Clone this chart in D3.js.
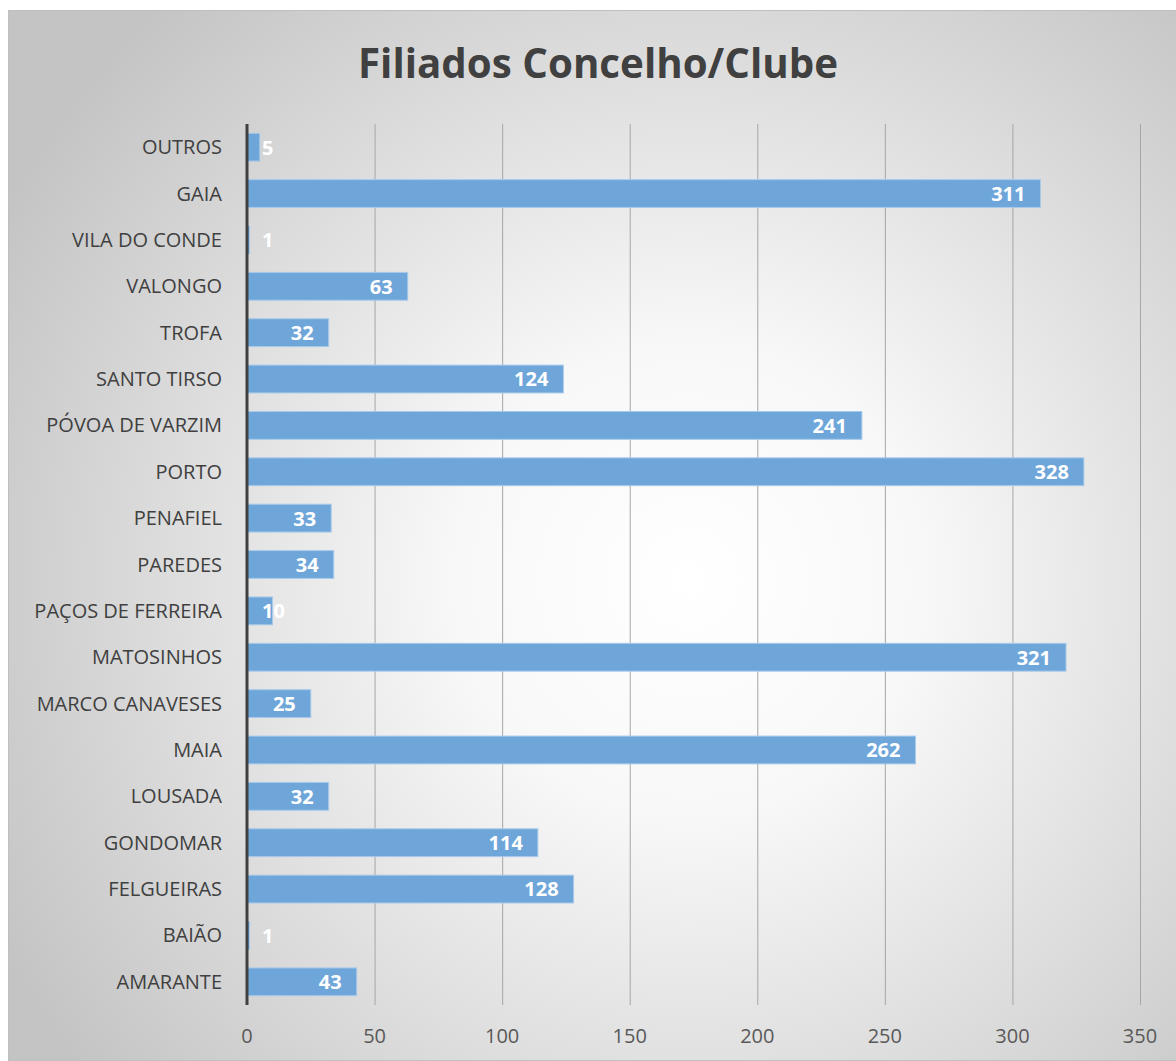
<!DOCTYPE html>
<html>
<head>
<meta charset="utf-8">
<script src="https://cdn.jsdelivr.net/npm/d3@7"></script>
<style>
  body { margin: 0; background: #fff; }
  svg { display: block; }
</style>
</head>
<body>
<div id="chart"></div>
<script>
// data, top to bottom as drawn
const categories = ["OUTROS", "GAIA", "VILA DO CONDE", "VALONGO", "TROFA", "SANTO TIRSO",
  "PÓVOA DE VARZIM", "PORTO", "PENAFIEL", "PAREDES", "PAÇOS DE FERREIRA", "MATOSINHOS",
  "MARCO CANAVESES", "MAIA", "LOUSADA", "GONDOMAR", "FELGUEIRAS", "BAIÃO", "AMARANTE"];
const values = [5, 311, 1, 63, 32, 124, 241, 328, 33, 34, 10, 321, 25, 262, 32, 114, 128, 1, 43];
const xTicks = [0, 50, 100, 150, 200, 250, 300, 350];
const title = "Filiados Concelho/Clube";

const width = 1176, height = 1061;
const margin = { top: 124, right: 36, bottom: 56, left: 247 };
const font = "'Open Sans', 'Noto Sans', sans-serif";

const data = categories.map((c, i) => ({ name: c, value: values[i] }));

const svg = d3.select("#chart")
  .append("svg")
  .attr("width", width)
  .attr("height", height);

// background gradient
const defs = svg.append("defs");
const grad = defs.append("radialGradient")
  .attr("id", "bg")
  .attr("gradientUnits", "userSpaceOnUse")
  .attr("cx", 690).attr("cy", 580).attr("r", 780);
grad.append("stop").attr("offset", "0%").attr("stop-color", "#ffffff");
grad.append("stop").attr("offset", "30%").attr("stop-color", "#f8f8f8");
grad.append("stop").attr("offset", "100%").attr("stop-color", "#c4c4c4");

svg.append("rect")
  .attr("x", 8.5).attr("y", 10.5)
  .attr("width", width).attr("height", height - 11)
  .attr("fill", "url(#bg)")
  .attr("stroke", "#bfbfbf");

let x = d3.scaleLinear()
  .domain([0, 350])
  .range([margin.left, width - margin.right]);

let y = d3.scaleBand()
  .domain(categories)
  .range([margin.top, height - margin.bottom])
  .paddingInner(0.4)
  .paddingOuter(0.2);

// gridlines
svg.append("g")
  .selectAll("line")
  .data(xTicks.filter(d => d > 0))
  .join("line")
  .attr("x1", d => x(d) + 0.5).attr("x2", d => x(d) + 0.5)
  .attr("y1", margin.top).attr("y2", height - margin.bottom)
  .attr("stroke", "#a6a6a6")
  .attr("stroke-width", 1);

// x tick labels
svg.append("g")
  .selectAll("text")
  .data(xTicks)
  .join("text")
  .attr("x", d => x(d))
  .attr("y", height - margin.bottom + 31)
  .attr("dy", "0.35em")
  .attr("text-anchor", "middle")
  .attr("fill", "#595959")
  .style("font-family", font)
  .style("font-size", "20px")
  .text(d => d);

// bars
svg.append("g")
  .selectAll("rect")
  .data(data)
  .join("rect")
  .attr("x", x(0))
  .attr("y", d => y(d.name))
  .attr("width", d => x(d.value) - x(0))
  .attr("height", y.bandwidth())
  .attr("fill", "#6fa6da")
  .attr("stroke", "#a8caea")
  .attr("stroke-width", 1);

// category labels
svg.append("g")
  .selectAll("text")
  .data(data)
  .join("text")
  .attr("x", margin.left - 25)
  .attr("y", d => y(d.name) + y.bandwidth() / 2)
  .attr("dy", "0.35em")
  .attr("text-anchor", "end")
  .attr("fill", "#404040")
  .style("font-family", font)
  .style("font-size", "20px")
  .text(d => d.name);

// value labels, inside end
const vl = svg.append("g")
  .selectAll("text")
  .data(data)
  .join("text")
  .attr("y", d => y(d.name) + y.bandwidth() / 2)
  .attr("dy", "0.37em")
  .attr("text-anchor", "end")
  .attr("fill", "#ffffff")
  .style("font-family", font)
  .style("font-size", "20px")
  .style("font-weight", "bold")
  .text(d => d.value);

vl.each(function(d) {
  const w = this.getComputedTextLength();
  d3.select(this).attr("x", Math.max(x(d.value) - 15, x(0) + 15 + w));
});

// y axis line
svg.append("line")
  .attr("x1", x(0)).attr("x2", x(0))
  .attr("y1", margin.top).attr("y2", height - margin.bottom)
  .attr("stroke", "#404040")
  .attr("stroke-width", 3);

// title
svg.append("text")
  .attr("x", 598)
  .attr("y", 78)
  .attr("text-anchor", "middle")
  .attr("fill", "#404040")
  .style("font-family", font)
  .style("font-size", "41px")
  .style("font-weight", "bold")
  .attr("textLength", 480)
  .attr("lengthAdjust", "spacingAndGlyphs")
  .text(title);
</script>
</body>
</html>
